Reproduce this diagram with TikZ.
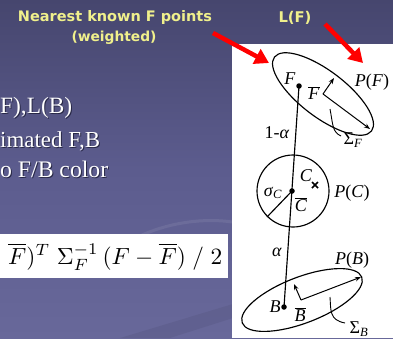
\documentclass[tikz,border=0pt]{standalone}
\usepackage{fontspec}
\setmainfont{Liberation Serif}
\newfontfamily\titlefont{DejaVu Sans}
\usetikzlibrary{arrows.meta}
\definecolor{bgtop}{RGB}{70,70,110}
\definecolor{bgmid}{RGB}{92,92,142}
\definecolor{bgbot}{RGB}{104,104,154}
\definecolor{ttl}{RGB}{240,240,140}
\definecolor{shd}{RGB}{40,40,70}
\tikzset{
  dline/.style={line width=1.15pt, black},
  darrow/.style={line width=1.0pt, -{Stealth[length=6pt,width=4.5pt]}},
  redarrow/.style={line width=4.5pt, red, -{Triangle[length=14pt,width=16pt]}},
  lbl/.style={inner sep=0pt, font=\fontsize{18}{18}\selectfont},
  ttlstyle/.style={inner sep=0pt, text=ttl, font=\titlefont\bfseries},
  slidetxt/.style={inner sep=0pt, anchor=base west, text=white},
  slideshd/.style={inner sep=0pt, anchor=base west, text=shd},
  dot/.style={circle, fill=black, inner sep=0pt, minimum size=5.5pt}
}
\begin{document}
\begin{tikzpicture}[x=1pt,y=-1pt]
\useasboundingbox (0,0) rectangle (393,338);
% background
\shade[top color=bgtop, bottom color=bgbot, middle color=bgmid] (0,0) rectangle (393,338);
\fill[black, opacity=0.06] (120,338) -- (233,304) -- (233,318) -- (170,338) -- cycle;
\draw[white, opacity=0.08, line width=3pt] (140,236) .. controls (170,222) and (205,218) .. (232,222);
% white panels
\fill[white] (232,44) rectangle (393,338);
\fill[white] (0,234) rectangle (228,278);
% title texts
\node[ttlstyle] (t1) at (115,18) {\resizebox{194pt}{!}{Nearest known F points}};
\node[ttlstyle] (t2) at (114,38) {\resizebox{85pt}{!}{(weighted)}};
\node[ttlstyle] (t3) at (295,18) {\resizebox{33pt}{!}{L(F)}};
% slide texts with shadow
\node[slideshd] at (1,114) {\resizebox{72pt}{!}{F),L(B)}};
\node[slidetxt] (s1) at (0,113) {\resizebox{72pt}{!}{F),L(B)}};
\node[slideshd] at (1,148) {\resizebox{100pt}{!}{imated F,B}};
\node[slidetxt] (s2) at (0,147) {\resizebox{100pt}{!}{imated F,B}};
\node[slideshd] at (1,178) {\resizebox{108pt}{!}{o F/B color}};
\node[slidetxt] (s3) at (0,177) {\resizebox{108pt}{!}{o F/B color}};
% formula
\node[inner sep=0pt, anchor=base west] (fm) at (8,264) {\resizebox{214pt}{!}{$\overline{F})^T\;\Sigma_F^{-1}\,(F-\overline{F})\;/\;2$}};
% red arrows
\coordinate (r1s) at (213,33); \coordinate (r1e) at (269,63);
\coordinate (r2s) at (325,24); \coordinate (r2e) at (363,63);
\draw[redarrow] (r1s) -- (r1e);
\draw[redarrow] (r2s) -- (r2e);
% upper ellipse
\draw[dline, rotate around={-37.3:(323,94)}] (323,94) ellipse [x radius=61, y radius=23];
% circle
\draw[dline] (293,191) circle [radius=36];
% lower ellipse
\draw[dline, rotate around={21:(302,300)}] (302,300) ellipse [x radius=64, y radius=23];
% points
\node[dot] (F) at (299,86) {};
\node[dot] (Cb) at (292,191) {};
\node[dot] (B) at (284,307) {};
\draw[dline] (F.center) -- (B.center);
% F arrows
\coordinate (Fc) at (323,94);
\coordinate (Fmaj) at (370,129);
\coordinate (Fmin) at (334,78);
\draw[darrow] (Fc) -- (Fmaj);
\draw[darrow] (Fc) -- (Fmin);
\draw[line width=0.9pt] (330,109) .. controls (333,124) and (332,132) .. (341,136);
% C radius
\coordinate (Crad) at (267,217);
\draw[dline] (Cb.center) -- (Crad);
% cross mark
\coordinate (X) at (315,185);
\draw[line width=1.7pt] ([shift={(-3,-3)}]X) -- ([shift={(3,3)}]X) ([shift={(-3,3)}]X) -- ([shift={(3,-3)}]X);
% B arrows
\coordinate (Bc) at (301,300);
\coordinate (Bmaj) at (361,277);
\coordinate (Bmin) at (294,284);
\draw[darrow] (Bc) -- (Bmaj);
\draw[darrow] (Bc) -- (Bmin);
\draw[line width=0.9pt] (330,297) .. controls (331,310) and (329,320) .. (345,323);
% labels
\node[lbl] (lF) at (290,79) {\textit{F}};
\node[lbl] (lFb) at (314,93) {$\overline{\mbox{\textit{F}}}$};
\node[lbl] (lPF) at (372,82) {\textit{P}(\textit{F})};
\node[lbl] (lSF) at (353,140) {Σ\textsubscript{\textit{F}}};
\node[lbl] (l1a) at (277,133) {1-\textit{α}};
\node[lbl] (lC) at (306,176) {\textit{C}};
\node[lbl] (lsC) at (273,193) {\textit{σ}\textsubscript{\textit{C}}};
\node[lbl] (lCb) at (301,205) {$\overline{\mbox{\textit{C}}}$};
\node[lbl] (lPC) at (352,193) {\textit{P}(\textit{C})};
\node[lbl] (la) at (277,252) {\textit{α}};
\node[lbl] (lPB) at (352,260) {\textit{P}(\textit{B})};
\node[lbl] (lB) at (275,307) {\textit{B}};
\node[lbl] (lBb) at (300,315) {$\overline{\mbox{\textit{B}}}$};
\node[lbl] (lSB) at (359,329) {Σ\textsubscript{\textit{B}}};
\end{tikzpicture}
\end{document}
